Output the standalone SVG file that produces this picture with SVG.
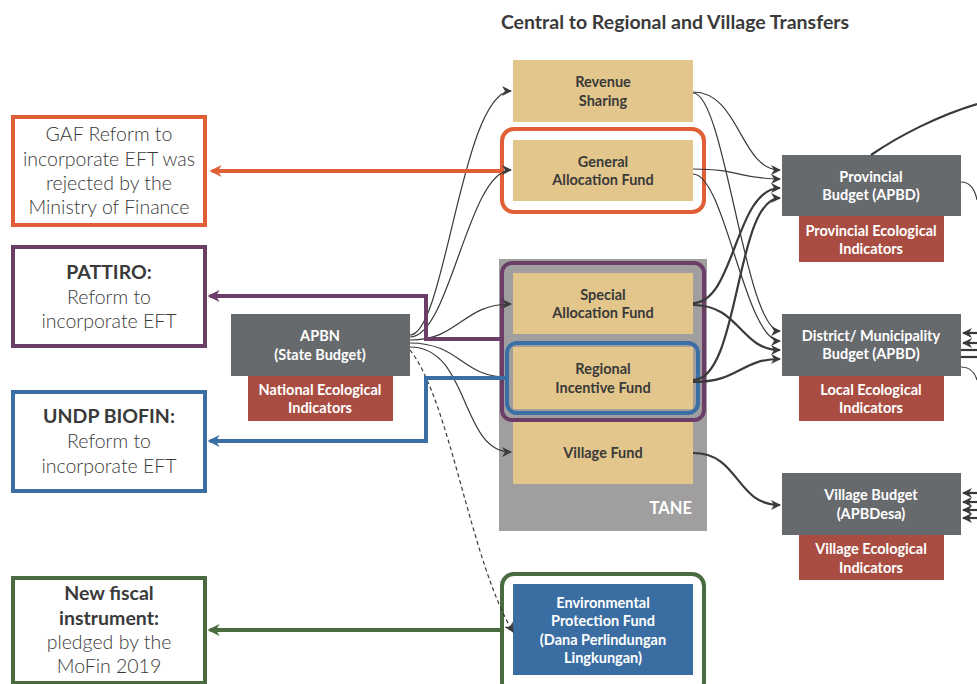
<svg xmlns="http://www.w3.org/2000/svg" width="977" height="684" viewBox="0 0 977 684">
<defs>
<style>
.t{font-family:Lato,"Open Sans","Liberation Sans",sans-serif;font-weight:700;font-size:14.5px;text-anchor:middle;dominant-baseline:central}
.dk{fill:#3a3a3a}
.wh{fill:#ffffff}
.lt{font-family:Lato,"Open Sans","Liberation Sans",sans-serif;font-weight:300;font-size:19.5px;text-anchor:middle;dominant-baseline:central;fill:#3a3a3a}
.ltb{font-weight:700}
.tan{fill:#e3c68b}
.gray{fill:#676a6d}
.red{fill:#a94d42}
.c{fill:none;stroke:#3a3a3a;stroke-width:1.2}
.ck{fill:none;stroke:#3a3a3a;stroke-width:2.2}
</style>
<marker id="ah" viewBox="0 0 10 10" refX="9" refY="5" markerWidth="10" markerHeight="10" markerUnits="userSpaceOnUse" orient="auto">
<path d="M0,0 L10,5 L0,10 L3,5 Z" fill="#3a3a3a"/>
</marker>
<marker id="ao" viewBox="0 0 10 10" refX="8" refY="5" markerWidth="12" markerHeight="12" markerUnits="userSpaceOnUse" orient="auto">
<path d="M0,0 L10,5 L0,10 L3,5 Z" fill="#e05f36"/>
</marker>
<marker id="ap" viewBox="0 0 10 10" refX="8" refY="5" markerWidth="12" markerHeight="12" markerUnits="userSpaceOnUse" orient="auto">
<path d="M0,0 L10,5 L0,10 L3,5 Z" fill="#6b3e67"/>
</marker>
<marker id="ab" viewBox="0 0 10 10" refX="8" refY="5" markerWidth="12" markerHeight="12" markerUnits="userSpaceOnUse" orient="auto">
<path d="M0,0 L10,5 L0,10 L3,5 Z" fill="#3a6ea5"/>
</marker>
<marker id="ag" viewBox="0 0 10 10" refX="8" refY="5" markerWidth="12" markerHeight="12" markerUnits="userSpaceOnUse" orient="auto">
<path d="M0,0 L10,5 L0,10 L3,5 Z" fill="#4a6b3f"/>
</marker>
</defs>
<rect width="977" height="684" fill="#ffffff"/>

<text x="675" y="21" style="font-family:Lato,'Open Sans','Liberation Sans',sans-serif;font-weight:700;font-size:19.5px;text-anchor:middle;dominant-baseline:central;fill:#3a3a3a">Central to Regional and Village Transfers</text>

<g id="tane">
<rect x="499" y="259" width="208" height="272" fill="#a09e9f"/>
<text class="t wh" x="692" y="508" style="text-anchor:end;font-size:16.5px">TANE</text>
</g>

<g id="revenue-sharing">
<rect class="tan" x="513" y="60" width="180" height="62"/>
<text class="t dk" x="603" y="81">Revenue</text>
<text class="t dk" x="603" y="100">Sharing</text>
</g>
<g id="general-allocation-fund">
<rect class="tan" x="513" y="140" width="180" height="61"/>
<text class="t dk" x="603" y="161">General</text>
<text class="t dk" x="603" y="179">Allocation Fund</text>
</g>
<g id="special-allocation-fund">
<rect class="tan" x="513" y="273" width="180" height="61"/>
<text class="t dk" x="603" y="294">Special</text>
<text class="t dk" x="603" y="312">Allocation Fund</text>
</g>
<g id="regional-incentive-fund">
<rect class="tan" x="513" y="347" width="180" height="62"/>
<text class="t dk" x="603" y="368">Regional</text>
<text class="t dk" x="603" y="387">Incentive Fund</text>
</g>
<g id="village-fund">
<rect class="tan" x="513" y="422" width="180" height="62"/>
<text class="t dk" x="603" y="452">Village Fund</text>
</g>
<g id="environmental-protection-fund">
<rect x="513" y="584" width="180" height="91" fill="#3a6ea3"/>
<text class="t wh" x="603" y="602">Environmental</text>
<text class="t wh" x="603" y="620">Protection Fund</text>
<text class="t wh" x="603" y="639">(Dana Perlindungan</text>
<text class="t wh" x="603" y="657">Lingkungan)</text>
</g>

<g id="apbn">
<rect class="gray" x="231" y="314" width="179" height="62"/>
<text class="t wh" x="320" y="335">APBN</text>
<text class="t wh" x="320" y="354">(State Budget)</text>
<rect class="red" x="248" y="376" width="145" height="45"/>
<text class="t wh" x="320" y="389">National Ecological</text>
<text class="t wh" x="320" y="407">Indicators</text>
</g>
<g id="provincial-budget">
<rect class="gray" x="782" y="155" width="179" height="61"/>
<text class="t wh" x="871" y="176">Provincial</text>
<text class="t wh" x="871" y="194">Budget (APBD)</text>
<rect class="red" x="799" y="216" width="145" height="46"/>
<text class="t wh" x="871" y="230">Provincial Ecological</text>
<text class="t wh" x="871" y="248">Indicators</text>
</g>
<g id="district-budget">
<rect class="gray" x="782" y="314" width="179" height="62"/>
<text class="t wh" x="871" y="335">District/ Municipality</text>
<text class="t wh" x="871" y="353">Budget (APBD)</text>
<rect class="red" x="799" y="376" width="145" height="45"/>
<text class="t wh" x="871" y="389">Local Ecological</text>
<text class="t wh" x="871" y="407">Indicators</text>
</g>
<g id="village-budget">
<rect class="gray" x="782" y="473" width="179" height="62"/>
<text class="t wh" x="871" y="494">Village Budget</text>
<text class="t wh" x="871" y="513">(APBDesa)</text>
<rect class="red" x="799" y="535" width="145" height="45"/>
<text class="t wh" x="871" y="548">Village Ecological</text>
<text class="t wh" x="871" y="567">Indicators</text>
</g>

<g id="gaf-reform">
<rect x="13" y="117" width="192" height="108" fill="#ffffff" stroke="#e05f36" stroke-width="4"/>
<text class="lt" x="109" y="133">GAF Reform to</text>
<text class="lt" x="109" y="158">incorporate EFT was</text>
<text class="lt" x="109" y="182">rejected by the</text>
<text class="lt" x="109" y="206">Ministry of Finance</text>
</g>
<g id="pattiro">
<rect x="13" y="247" width="192" height="99" fill="#ffffff" stroke="#6b3e67" stroke-width="4"/>
<text class="lt ltb" x="109" y="271">PATTIRO:</text>
<text class="lt" x="109" y="296">Reform to</text>
<text class="lt" x="109" y="320">incorporate EFT</text>
</g>
<g id="undp-biofin">
<rect x="13" y="392" width="192" height="99" fill="#ffffff" stroke="#3a6ea5" stroke-width="4"/>
<text class="lt ltb" x="109" y="415">UNDP BIOFIN:</text>
<text class="lt" x="109" y="440">Reform to</text>
<text class="lt" x="109" y="465">incorporate EFT</text>
</g>
<g id="new-fiscal-instrument">
<rect x="13" y="578" width="192" height="105" fill="#ffffff" stroke="#4a6b3f" stroke-width="4"/>
<text class="lt ltb" x="109" y="592">New fiscal</text>
<text class="lt ltb" x="109" y="617">instrument:</text>
<text class="lt" x="109" y="641">pledged by the</text>
<text class="lt" x="109" y="665">MoFin 2019</text>
</g>

<g id="highlights" fill="none" stroke-width="4">
<rect x="502" y="129" width="202" height="83" rx="12" stroke="#e05f36"/>
<rect x="502" y="263" width="202" height="157" rx="10" stroke="#6b3e67"/>
<rect x="507" y="343" width="191" height="70" rx="10" stroke="#3a6ea5"/>
<rect x="502" y="574" width="202" height="120" rx="12" stroke="#4a6b3f"/>
</g>

<g id="connectors">
<path class="c" d="M410,335 C445,335 462,91 511,91" marker-end="url(#ah)"/>
<path class="c" d="M410,337 C450,337 468,170 511,170" marker-end="url(#ah)"/>
<path class="c" d="M410,340 C460,340 462,304 511,304" marker-end="url(#ah)"/>
<path class="c" d="M410,343 C460,343 462,377 507,377"/>
<path class="c" d="M410,347 C470,347 460,452 511,452" marker-end="url(#ah)"/>
<path class="c" d="M410,350 C450,400 470,560 513,632" stroke-dasharray="4,3" marker-end="url(#ah)"/>

<path class="c" d="M693,92 C740,92 740,170 780,170" marker-end="url(#ah)"/>
<path class="c" d="M693,93 C725,93 745,331 780,331" marker-end="url(#ah)"/>
<path class="c" d="M693,169 C740,169 740,179 780,179" marker-end="url(#ah)"/>
<path class="c" d="M693,174 C725,174 745,341 780,341" marker-end="url(#ah)"/>
<path class="ck" d="M693,303 C735,303 735,188 780,188" marker-end="url(#ah)"/>
<path class="ck" d="M693,305 C740,305 740,350 780,350" marker-end="url(#ah)"/>
<path class="ck" d="M693,380 C740,380 735,198 780,198" marker-end="url(#ah)"/>
<path class="ck" d="M693,382 C740,382 740,359 780,359" marker-end="url(#ah)"/>
<path class="ck" d="M693,453 C740,453 735,505 780,505" marker-end="url(#ah)"/>

<path class="ck" d="M871,155 C900,135 940,115 977,104"/>
<path class="c" d="M961,182 C970,182 975,190 977,200"/>
<path class="ck" d="M977,333 L963,333" marker-end="url(#ah)"/>
<path class="ck" d="M977,343 L963,343" marker-end="url(#ah)"/>
<path class="ck" d="M961,350 L977,350"/>
<path class="ck" d="M961,357 L977,357"/>
<path class="c" d="M961,367 C970,367 975,373 977,380"/>
<path class="ck" d="M977,493 L963,493" marker-end="url(#ah)"/>
<path class="ck" d="M977,502 L963,502" marker-end="url(#ah)"/>
<path class="ck" d="M977,510 L963,510" marker-end="url(#ah)"/>
<path class="ck" d="M977,518 L963,518" marker-end="url(#ah)"/>

<path d="M502,171 L212,171" fill="none" stroke="#e05f36" stroke-width="4" marker-end="url(#ao)"/>
<path d="M502,339 L426,339 L426,296 L210,296" fill="none" stroke="#6b3e67" stroke-width="4" marker-end="url(#ap)"/>
<path d="M507,378 L426,378 L426,441 L210,441" fill="none" stroke="#3a6ea5" stroke-width="4" marker-end="url(#ab)"/>
<path d="M502,630 L210,630" fill="none" stroke="#4a6b3f" stroke-width="4" marker-end="url(#ag)"/>
</g>
</svg>
